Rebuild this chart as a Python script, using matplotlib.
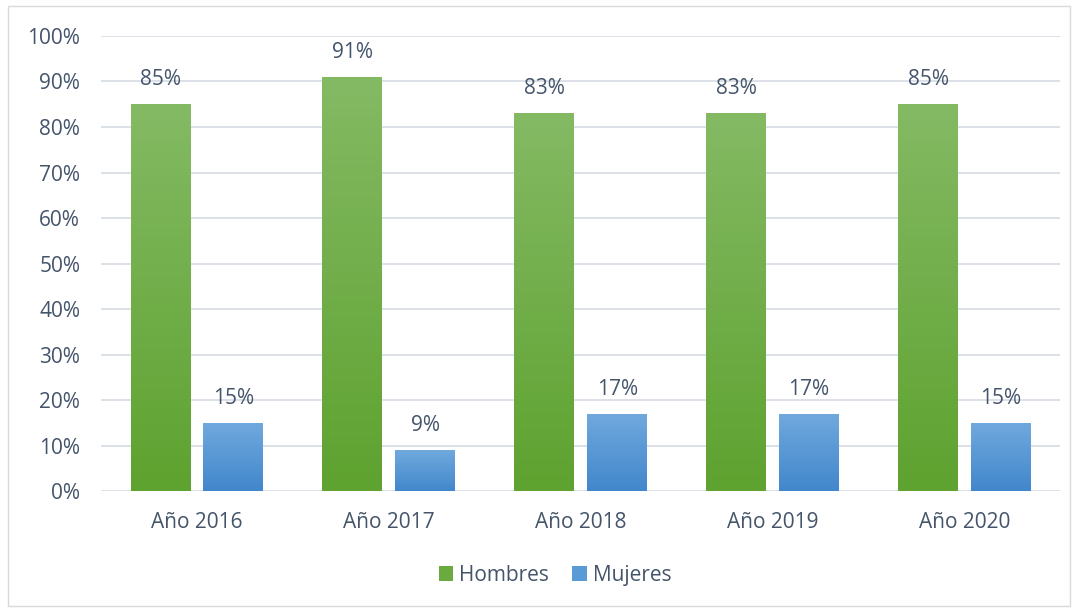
import numpy as np
import matplotlib.pyplot as plt
from matplotlib.colors import LinearSegmentedColormap
from matplotlib.patches import Rectangle

# Data
years = ['Año 2016', 'Año 2017', 'Año 2018', 'Año 2019', 'Año 2020']
hombres = [85, 91, 83, 83, 85]
mujeres = [15, 9, 17, 17, 15]

text_color = '#44546A'
plt.rcParams['font.family'] = ['Open Sans', 'DejaVu Sans']

fig = plt.figure(figsize=(10.78, 6.10), dpi=100)
ax = fig.add_axes([0.0937, 0.195, 0.890, 0.746])

# outer chart frame
fig.patches.append(Rectangle((0.007, 0.006), 0.986, 0.984, transform=fig.transFigure,
                             fill=False, edgecolor='#D9D9D9', linewidth=1.0))

x = np.arange(len(years))
width = 0.3125
offset = 0.19

green_cmap = LinearSegmentedColormap.from_list('g', ['#5EA22F', '#84BA64'])
blue_cmap = LinearSegmentedColormap.from_list('b', ['#4287CC', '#70A9DD'])
grad = np.linspace(0, 1, 256).reshape(-1, 1)


def gradient_bars(positions, values, cmap, label):
    bars = ax.bar(positions, values, width, color=cmap(0.5), label=label, zorder=3)
    for b in bars:
        b.set_facecolor('none')
        x0, y0 = b.get_x(), b.get_y()
        w, h = b.get_width(), b.get_height()
        # each bar gets its own light-to-dark gradient
        im = ax.imshow(grad, cmap=cmap, aspect='auto', origin='lower',
                       extent=[x0, x0 + w, y0, y0 + h], zorder=3)
        im.set_clip_path(b)
    return bars


gradient_bars(x - offset, hombres, green_cmap, 'Hombres')
gradient_bars(x + offset, mujeres, blue_cmap, 'Mujeres')

for xi, v in zip(x - offset, hombres):
    ax.annotate(f'{v}%', (xi, v), xytext=(0, 10), textcoords='offset points',
                ha='center', va='bottom', fontsize=15, color=text_color)
for xi, v in zip(x + offset, mujeres):
    ax.annotate(f'{v}%', (xi, v), xytext=(0, 10), textcoords='offset points',
                ha='center', va='bottom', fontsize=15, color=text_color)

ax.set_xlim(-0.5, 4.5)
ax.set_ylim(0, 100)
ax.set_yticks(range(0, 101, 10))
ax.set_yticklabels([f'{t}%' for t in range(0, 101, 10)])
ax.set_xticks(x)
ax.set_xticklabels(years)
ax.tick_params(axis='both', length=0, labelsize=15, labelcolor=text_color)
ax.tick_params(axis='x', pad=15)
ax.tick_params(axis='y', pad=15)
ax.yaxis.grid(True, color='#D9DEE6', linewidth=1.3, zorder=0)
ax.set_axisbelow(True)
for s in ax.spines.values():
    s.set_visible(False)

# legend with square patches
handles = [Rectangle((0, 0), 1, 1, facecolor='#6AAA3E'),
           Rectangle((0, 0), 1, 1, facecolor='#5A9AD6')]
fig.legend(handles, ['Hombres', 'Mujeres'], loc='center', bbox_to_anchor=(0.515, 0.057),
           ncol=2, frameon=False, fontsize=15, labelcolor=text_color,
           handlelength=0.7, handleheight=0.7, handletextpad=0.3, columnspacing=1.1)

fig.savefig('out.png', dpi=100, facecolor='white')
